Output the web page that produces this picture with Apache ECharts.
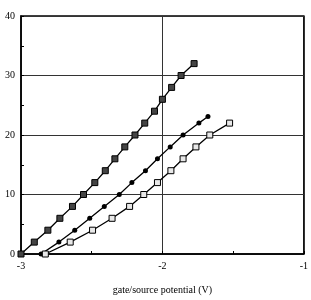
<!DOCTYPE html>
<html>
<head>
<meta charset="utf-8">
<script src="https://cdn.jsdelivr.net/npm/echarts@6/dist/echarts.min.js"></script>
<style>
html,body{margin:0;padding:0;background:#fff;}
#chart{width:311px;height:300px;}
</style>
</head>
<body>
<div id="chart"></div>
<script>
// gate/source potential (V) and current for the three curves
var gateA = [-3, -2.906, -2.81, -2.725, -2.636, -2.558, -2.478, -2.404, -2.336, -2.266, -2.194, -2.125, -2.056, -2.0, -1.935, -1.868, -1.776];
var currA = [0, 2, 4, 6, 8, 10, 12, 14, 16, 18, 20, 22, 24, 26, 28, 30, 32];
var gateB = [-2.858, -2.732, -2.62, -2.514, -2.411, -2.305, -2.216, -2.12, -2.035, -1.945, -1.854, -1.742, -1.678];
var currB = [0, 2, 4, 6, 8, 10, 12, 14, 16, 18, 20, 22, 23.1];
var gateC = [-2.828, -2.652, -2.494, -2.356, -2.232, -2.132, -2.035, -1.94, -1.854, -1.763, -1.665, -1.525];
var currC = [0, 2, 4, 6, 8, 10, 12, 14, 16, 18, 20, 22];
var xTicks = [-3, -2, -1];
var yTicks = [0, 10, 20, 30, 40];

function pairs(xs, ys){
	return xs.map(function(x, i){ return [x, ys[i]]; });
}

var font = 'Liberation Serif, DejaVu Serif, serif';
var chart = echarts.init(document.getElementById('chart'));
chart.setOption({
	animation: false,
	grid: {left: 21, right: 2, top: 16, bottom: 38, show: true, borderColor: '#000', borderWidth: 1.5},
	xAxis: {
		type: 'value',
		min: xTicks[0], max: xTicks[xTicks.length - 1], interval: 1,
		name: 'gate/source potential (V)',
		nameLocation: 'middle', nameGap: 31,
		nameTextStyle: {color: '#000', fontFamily: font, fontSize: 10},
		axisLine: {lineStyle: {color: '#000', width: 1.5}},
		axisTick: {inside: true, length: 3, lineStyle: {color: '#000'}},
		minorTick: {show: true, splitNumber: 2, length: 3, lineStyle: {color: '#000'}},
		axisLabel: {color: '#000', fontFamily: font, fontSize: 10, margin: 7,
			formatter: function(v){ return xTicks.indexOf(v) >= 0 ? String(v) : ''; }},
		splitLine: {show: true, lineStyle: {color: '#333', width: 1}}
	},
	yAxis: {
		type: 'value',
		min: yTicks[0], max: yTicks[yTicks.length - 1], interval: 10,
		axisLine: {show: true, lineStyle: {color: '#000', width: 1.5}},
		axisTick: {show: true, inside: true, length: 3, lineStyle: {color: '#000'}},
		minorTick: {show: true, splitNumber: 2, length: 3, lineStyle: {color: '#000'}},
		axisLabel: {color: '#000', fontFamily: font, fontSize: 10, margin: 6},
		splitLine: {show: true, lineStyle: {color: '#333', width: 1}}
	},
	series: [{
		type: 'line', data: pairs(gateA, currA),
		symbol: 'rect', symbolSize: 6,
		lineStyle: {color: '#000', width: 1.3},
		itemStyle: {color: '#444', borderColor: '#000', borderWidth: 1}
	}, {
		type: 'line', data: pairs(gateB, currB),
		symbol: 'circle', symbolSize: 5,
		lineStyle: {color: '#000', width: 1.3},
		itemStyle: {color: '#000', borderColor: '#000', borderWidth: 0}
	}, {
		type: 'line', data: pairs(gateC, currC),
		symbol: 'rect', symbolSize: 6,
		lineStyle: {color: '#000', width: 1.3},
		itemStyle: {color: '#e8e8e8', borderColor: '#000', borderWidth: 1}
	}]
});
</script>
</body>
</html>
